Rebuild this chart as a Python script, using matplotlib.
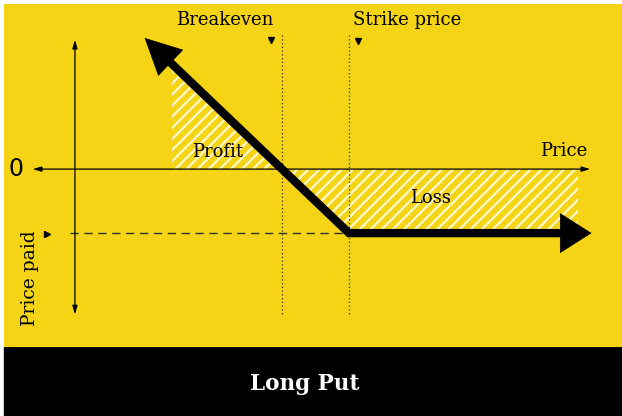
import matplotlib.pyplot as plt
from matplotlib.patches import Rectangle

# long put payoff (price units)
strike = 50
premium = 10
breakeven = 40
line_price = [21, 50, 84]
line_payoff = [19, -10, -10]
profit_price = [23.6, 40]
profit_payoff = [15.6, 0]
loss_price = [40, 50, 84.2]
loss_payoff = [0, -10, -10]

yellow = '#f5d415'
serif = 'DejaVu Serif'

fig = plt.figure(figsize=(6.22, 4.16), dpi=100)
fig.patch.set_facecolor('white')
fig.add_artist(Rectangle((4 / 622, 0), 1, 69 / 416, transform=fig.transFigure,
                         color='black', zorder=0))
fig.text(305 / 622, 32 / 416, 'Long Put', color='white', ha='center', va='center',
         fontsize=15.5, fontweight='bold', family=serif)

ax = fig.add_axes([4 / 622, 69 / 416, 618 / 622, 343 / 416])
ax.set_facecolor(yellow)
ax.set_xlim(-1.49, 90.75)
ax.set_ylim(-27.8, 25.8)
ax.set_xticks([])
ax.set_yticks([])
for s in ax.spines.values():
    s.set_visible(False)

plt.rcParams['hatch.linewidth'] = 1.6
ax.fill_between(profit_price, profit_payoff, 0, facecolor='none', edgecolor='#fff8d0',
                hatch='///', linewidth=0)
ax.fill_between(loss_price, loss_payoff, 0, facecolor='none', edgecolor='#fff8d0',
                hatch='///', linewidth=0)

# axes arrows
ax.annotate('', xy=(9.1, 20.2), xytext=(9.1, -22.7),
            arrowprops=dict(arrowstyle='<|-|>,head_length=0.5,head_width=0.15',
                            lw=0.9, color='black', shrinkA=0, shrinkB=0))
ax.annotate('', xy=(86, 0), xytext=(2.8, 0),
            arrowprops=dict(arrowstyle='<|-|>,head_length=0.5,head_width=0.15',
                            lw=0.9, color='black', shrinkA=0, shrinkB=0))

# reference lines
ax.plot([breakeven, breakeven], [20.9, -22.8], ls=(0, (1, 2)), lw=0.9, color='#333333')
ax.plot([strike, strike], [20.9, -22.8], ls=(0, (1, 2)), lw=0.9, color='#333333')
ax.plot([8.4, strike], [-premium, -premium], ls=(0, (6, 4)), lw=1, color='#333333')
ax.plot([38.4, 51.3], [20.2, 20.0], 'v', ms=5, color='black')
ax.plot([4.9], [-10.2], '>', ms=4, color='black')

# payoff line
ax.plot(line_price, line_payoff, lw=6, color='black', solid_joinstyle='miter',
        solid_capstyle='butt')
ax.annotate('', xy=(19.5, 20.5), xytext=(22.5, 17.5),
            arrowprops=dict(arrowstyle='-|>,head_length=1.2,head_width=0.6',
                            mutation_scale=21, lw=0.5, color='black',
                            shrinkA=0, shrinkB=0))
ax.annotate('', xy=(86.2, -10), xytext=(82, -10),
            arrowprops=dict(arrowstyle='-|>,head_length=1.1,head_width=0.7',
                            mutation_scale=20, lw=0.5, color='black',
                            shrinkA=0, shrinkB=0))

# labels
ax.text(31.5, 23.3, 'Breakeven', ha='center', va='center', fontsize=13, family=serif)
ax.text(50.6, 23.3, 'Strike price', ha='left', va='center', fontsize=13, family=serif)
ax.text(82.0, 2.8, 'Price', ha='center', va='center', fontsize=13, family=serif)
ax.text(30.4, 2.7, 'Profit', ha='center', va='center', fontsize=13, family=serif)
ax.text(62.1, -4.5, 'Loss', ha='center', va='center', fontsize=13, family=serif)
ax.text(2.4, -17.0, 'Price paid', ha='center', va='center', rotation=90,
        fontsize=13.5, family=serif)
ax.text(0.3, 0, '0', ha='center', va='center', fontsize=17)

fig.savefig('out.png', dpi=100)
